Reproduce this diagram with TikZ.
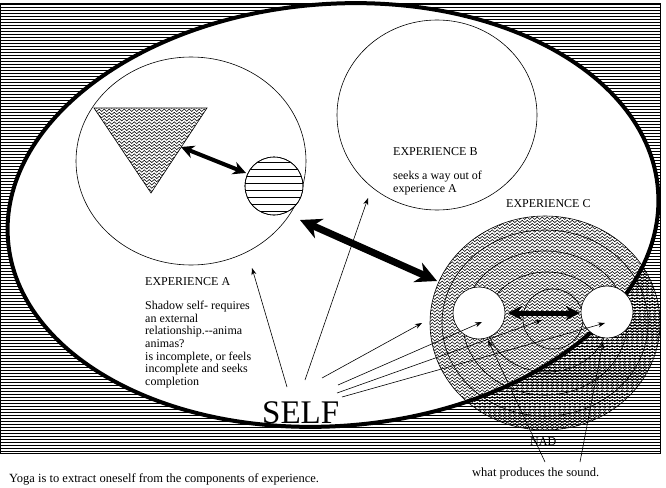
\documentclass[tikz,border=0pt]{standalone}
\usepackage{fontspec}
\setmainfont{Liberation Serif}
\usetikzlibrary{arrows.meta,decorations.pathmorphing,shapes.geometric}

\tikzset{
  zz/.style={decorate, decoration={zigzag, segment length=5pt, amplitude=1.2pt}, line width=0.55pt},
  thinarrow/.style={-{Stealth[length=7pt,width=5pt]}, line width=0.6pt},
  fatarrow/.style={{Stealth[length=#1,width=#1]}-{Stealth[length=#1,width=#1]}},
  lbl/.style={anchor=north west, inner sep=0pt, font=\fontsize{12}{12.6}\selectfont, align=left},
  ring/.style={draw, line width=0.6pt},
}

\begin{document}
\begin{tikzpicture}[x=1pt,y=-1pt]
\useasboundingbox (0,0) rectangle (666,487);

% striped ground
\foreach \yy in {4.5,7.5,...,452}
  \draw[line width=1.8pt] (0,\yy) -- (660,\yy);
\draw[line width=0.8pt] (0,3) rectangle (660,453);

% the big ellipse
\draw[line width=4pt, fill=white, rotate around={4.4:(333,215)}] (333,215) ellipse [x radius=326, y radius=211];

% experience A and B
\node[ring, ellipse, minimum width=230pt, minimum height=208pt] (expA) at (191,161) {};
\node[ring, ellipse, minimum width=200pt, minimum height=190pt] (expB) at (437,115) {};

% triangle
\coordinate (t1) at (94,108);
\coordinate (t2) at (207,108);
\coordinate (t3) at (151,193);
\begin{scope}
  \clip (t1) -- (t2) -- (t3) -- cycle;
  \foreach \yy in {107,110.2,...,196}
    \draw[zz] (88,\yy) -- (212,\yy);
\end{scope}
\draw[line width=0.6pt] (t1) -- (t2) -- (t3) -- cycle;

% striped circle
\node[ring, circle, minimum size=58pt, inner sep=0pt, fill=white] (shadow) at (274,186) {};
\begin{scope}
  \clip (274,186) circle [radius=29];
  \foreach \yy in {162,169,...,212}
    \draw[line width=0.6pt] (240,\yy) -- (310,\yy);
\end{scope}
\draw[line width=0.6pt] (274,186) circle [radius=29];

% experience C
\begin{scope}
  \clip (545,323) ellipse [x radius=115, y radius=107];
  \foreach \yy in {215,218.2,...,432}
    \draw[zz] (426,\yy) -- (664,\yy);
\end{scope}
\draw[line width=0.6pt] (545,323) ellipse [x radius=115, y radius=107];
\draw[line width=0.6pt] (545,323) ellipse [x radius=103, y radius=93];
\draw[line width=0.6pt] (545,323) ellipse [x radius=82, y radius=72];
\draw[line width=0.6pt] (547,322) ellipse [x radius=60, y radius=50];
\draw[line width=0.6pt] (553,319) circle [radius=30];
\node[ring, circle, minimum size=52pt, inner sep=0pt, fill=white] (nadL) at (479,313) {};
\node[ring, circle, minimum size=52pt, inner sep=0pt, fill=white] (nadR) at (607,312) {};

% fat arrows
\coordinate (triR) at (181,147);
\coordinate (shL) at (246,173);
\coordinate (aOut) at (300,220);
\coordinate (cIn) at (437,281);
\coordinate (cL) at (508,313);
\coordinate (cR) at (580,313);
\draw[fatarrow=13pt, line width=4pt] (triR) -- (shL);
\draw[fatarrow=21pt, line width=7pt] (aOut) -- (cIn);
\draw[fatarrow=14pt, line width=5pt] (cL) -- (cR);

% arrows from the self
\coordinate (s1) at (287,387);
\coordinate (s2) at (305,380);
\coordinate (s3) at (322,378);
\coordinate (s4) at (338,385);
\coordinate (s5) at (337,393);
\coordinate (s6) at (342,397);
\coordinate (e1) at (252,268);
\coordinate (e2) at (368,198);
\coordinate (e3) at (422,323);
\coordinate (e4) at (482,322);
\coordinate (e5) at (542,320);
\coordinate (e6) at (605,323);
\foreach \i in {1,...,6}
  \draw[thinarrow] (s\i) -- (e\i);

% arrows from the sound
\coordinate (w1) at (545,462);
\coordinate (w2) at (580,462);
\coordinate (n1) at (488,340);
\coordinate (n2) at (603,342);
\draw[thinarrow] (w1) -- (n1);
\draw[thinarrow] (w2) -- (n2);

% texts
\node[lbl] (labB) at (393,147) {EXPERIENCE B\\[12pt]seeks a way out of\\experience A};
\node[lbl] (labC) at (506,199) {EXPERIENCE C};
\node[lbl] (labA) at (145,277) {EXPERIENCE A\\[12pt]Shadow self- requires\\an external\\relationship.-{}-anima\\animas?\\is incomplete, or feels\\incomplete and seeks\\completion};
\node[anchor=base west, inner sep=0pt, font=\fontsize{33}{33}\selectfont] (self) at (262,423) {SELF};
\node[anchor=base west, inner sep=0pt, font=\fontsize{12}{12}\selectfont] (nad) at (530,445) {NAD};
\node[anchor=base west, inner sep=0pt, font=\fontsize{12.5}{12.5}\selectfont] (sound) at (472,476) {what produces the sound.};
\node[anchor=base west, inner sep=0pt, font=\fontsize{12.5}{12.5}\selectfont] (yoga) at (9,482) {Yoga is to extract oneself from the components of experience.};
\end{tikzpicture}
\end{document}
